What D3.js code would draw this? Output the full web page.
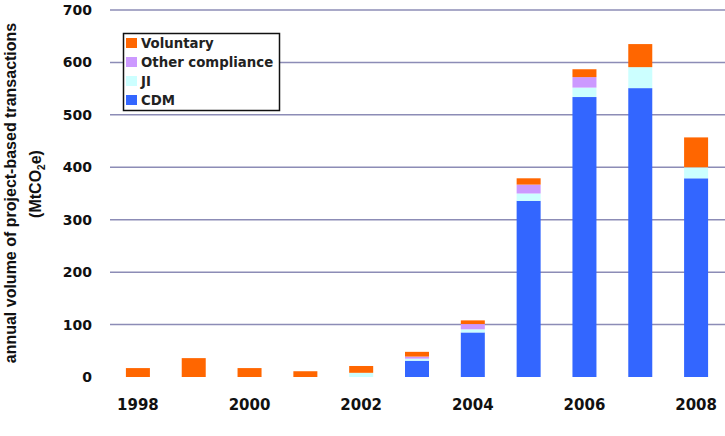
<!DOCTYPE html>
<html lang="en">
<head>
  <meta charset="UTF-8">
  <title>Annual volume of project-based transactions</title>
  <style>
    body { margin: 0; background: #fff; }
    svg { display: block; }
    .tick-label { font-family: "DejaVu Sans", sans-serif; font-weight: bold; fill: #111; }
    .legend text { font-family: "DejaVu Sans", sans-serif; font-weight: bold; font-size: 13.3px; fill: #222; }
    .ytitle { font-family: "Liberation Sans", Arial, sans-serif; font-weight: bold; font-size: 16px; fill: #111; }
  </style>
  <script src="https://d3js.org/d3.v7.min.js"></script>
</head>
<body>
<svg id="chart"></svg>
<script>
  // Data (MtCO2e)
  const years = ["1998", "1999", "2000", "2001", "2002", "2003", "2004", "2005", "2006", "2007", "2008"];
  const cdm = [0, 0, 0, 0, 0, 31, 85, 336, 534, 551, 379];
  const ji = [0, 0, 0, 0, 8, 4, 6, 14, 18, 40, 21];
  const otherCompliance = [0, 0, 0, 0, 0, 4, 10, 17, 20, 0, 0];
  const voluntary = [17, 36, 17, 11, 13, 9, 7, 12, 15, 44, 57];
  const xLabels = ["1998", "2000", "2002", "2004", "2006", "2008"];
  const yTicks = [0, 100, 200, 300, 400, 500, 600, 700];

  const seriesNames = ["CDM", "JI", "Other compliance", "Voluntary"];
  const colors = {"CDM": "#3366ff", "JI": "#ccffff", "Other compliance": "#cc99ff", "Voluntary": "#ff6600"};

  const W = 725, H = 436;
  const svg = d3.select("#chart").attr("width", W).attr("height", H);

  const table = years.map((y, i) => ({
    year: y,
    "CDM": cdm[i],
    "JI": ji[i],
    "Other compliance": otherCompliance[i],
    "Voluntary": voluntary[i]
  }));

  const x = d3.scaleBand()
    .domain(years)
    .range([110, 724])
    .paddingInner(0.57)
    .paddingOuter(0.285);

  const y = d3.scaleLinear().domain([0, 700]).range([377, 10]);

  // gridlines (no line at zero)
  svg.append("g")
    .selectAll("line")
    .data(yTicks.filter(d => d > 0))
    .join("line")
    .attr("x1", 110).attr("x2", W)
    .attr("y1", d => y(d)).attr("y2", d => y(d))
    .attr("stroke", "#8c8cb6")
    .attr("stroke-width", 1.5);

  // stacked bars
  const stack = d3.stack().keys(seriesNames)(table);
  svg.append("g")
    .selectAll("g")
    .data(stack)
    .join("g")
    .attr("fill", d => colors[d.key])
    .selectAll("rect")
    .data(d => d)
    .join("rect")
    .attr("x", d => x(d.data.year))
    .attr("width", x.bandwidth())
    .attr("y", d => y(d[1]))
    .attr("height", d => y(d[0]) - y(d[1]));

  // y tick labels
  svg.append("g")
    .selectAll("text")
    .data(yTicks)
    .join("text")
    .attr("class", "tick-label")
    .attr("x", 92)
    .attr("y", d => y(d))
    .attr("dy", "0.36em")
    .attr("text-anchor", "end")
    .style("font-size", "14px")
    .text(d => d);

  // x labels (every other year)
  svg.append("g")
    .selectAll("text")
    .data(xLabels)
    .join("text")
    .attr("class", "tick-label")
    .attr("x", d => x(d) + x.bandwidth() / 2)
    .attr("y", 410)
    .attr("text-anchor", "middle")
    .style("font-size", "15px")
    .text(d => d);

  // y axis title
  svg.append("text")
    .attr("class", "ytitle")
    .attr("transform", "translate(16,193) rotate(-90)")
    .attr("text-anchor", "middle")
    .text("annual volume of project-based transactions");

  const t2 = svg.append("text")
    .attr("class", "ytitle")
    .attr("transform", "translate(41,184) rotate(-90)")
    .attr("text-anchor", "middle");
  t2.append("tspan").text("(MtCO");
  t2.append("tspan").attr("dy", 4).style("font-size", "10px").text("2");
  t2.append("tspan").attr("dy", -4).text("e)");

  // legend
  const legend = svg.append("g").attr("class", "legend");
  legend.append("rect")
    .attr("x", 123.5).attr("y", 33.5)
    .attr("width", 156).attr("height", 77)
    .attr("fill", "#fff")
    .attr("stroke", "#111")
    .attr("stroke-width", 1.5);

  const legendOrder = ["Voluntary", "Other compliance", "JI", "CDM"];
  const entry = legend.selectAll("g.entry")
    .data(legendOrder)
    .join("g")
    .attr("class", "entry")
    .attr("transform", (d, i) => `translate(126, ${43 + i * 19})`);
  entry.append("rect")
    .attr("x", 0).attr("y", -5)
    .attr("width", 11).attr("height", 10)
    .attr("fill", d => colors[d]);
  entry.append("text")
    .attr("x", 15)
    .attr("dy", "0.36em")
    .text(d => d);
</script>
</body>
</html>
